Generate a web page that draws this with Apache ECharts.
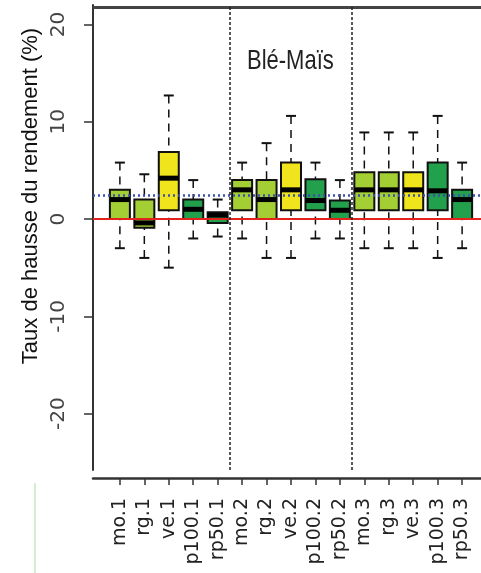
<!DOCTYPE html>
<html><head><meta charset="utf-8">
<script src="https://cdn.jsdelivr.net/npm/echarts@6/dist/echarts.min.js"></script>
<style>html,body{margin:0;padding:0;background:#fff}#c{width:481px;height:573px}</style>
</head><body><div id="c"></div>
<script>
const categories = ['mo.1','rg.1','ve.1','p100.1','rp50.1','mo.2','rg.2','ve.2','p100.2','rp50.2','mo.3','rg.3','ve.3','p100.3','rp50.3'];
const treatment  = ['mo','rg','ve','p100','rp50','mo','rg','ve','p100','rp50','mo','rg','ve','p100','rp50'];
const lowWhisker = [-3, -4, -5, -2, -1.8, -2, -4, -4, -2, -2, -3, -3, -3, -4, -3];
const q1         = [0, -0.9, 0.9, 0, -0.4, 0.9, 0, 0.9, 0.9, 0, 0.9, 0.9, 0.9, 0.9, 0];
const median     = [2, -0.4, 4.2, 1, 0.4, 3, 2, 3, 1.9, 0.9, 3, 3, 3, 2.9, 2];
const q3         = [3, 2, 6.9, 2, 0.7, 4, 4, 5.8, 4.1, 1.9, 4.8, 4.8, 4.8, 5.8, 3];
const highWhisker= [5.8, 4.6, 12.7, 4, 2, 5.8, 7.8, 10.6, 5.8, 4, 8.9, 8.9, 8.9, 10.6, 5.8];
const yTicks = [-20, -10, 0, 10, 20];
const yMin = -25.8, yMax = 22.0;
const frameTop = 21.8;
const groupDividers = [5.5, 10.5];
const meanLine = 2.4;
const groupLabel = 'Blé-Maïs';
const yTitle = 'Taux de hausse du rendement (%)';
const treatmentColors = {mo:'#a4cf34', rg:'#a4cf34', ve:'#f0e41c', p100:'#22a04c', rp50:'#22a04c'};

const xs = categories.map((c, i) => i + 1);
const whiskerData = xs.map((x, i) => [x, lowWhisker[i], median[i], median[i], median[i], highWhisker[i]]);
const boxData = xs.map((x, i) => ({value:[x, q1[i], q1[i], median[i], q3[i], q3[i]], itemStyle:{color: treatmentColors[treatment[i]]}}));
const medianData = xs.map((x, i) => [x, median[i]]);
const capData = xs.map((x, i) => [x, lowWhisker[i]]).concat(xs.map((x, i) => [x, highWhisker[i]]));

const chart = echarts.init(document.getElementById('c'), null, {renderer:'canvas'});
chart.setOption({
  animation:false,
  backgroundColor:'#fff',
  grid:{left:93, right:-8, top:5, bottom:103, containLabel:false, outerBoundsMode:'none'},
  xAxis:[{
    type:'value', min:-0.1, max:16.1, position:'bottom', offset:8,
    axisLine:{show:true, onZero:false, lineStyle:{color:'#333', width:2.5}},
    axisTick:{show:true, customValues:xs, length:7, lineStyle:{color:'#333', width:1.5}},
    axisLabel:{show:true, customValues:xs, formatter:v => categories[Math.round(v)-1], rotate:90, margin:20,
      fontSize:19, fontFamily:'DejaVu Sans', color:'#222'},
    splitLine:{show:false}
  },{
    type:'value', min:-0.1, max:16.1, position:'top',
    axisLine:{show:false, onZero:false}, axisTick:{show:false}, axisLabel:{show:false}, splitLine:{show:false}
  }],
  yAxis:{
    type:'value', min:yMin, max:yMax,
    axisLine:{show:true, onZero:false, lineStyle:{color:'#333', width:2}},
    axisTick:{show:true, customValues:yTicks, length:9, lineStyle:{color:'#333', width:1.5}},
    axisLabel:{show:true, customValues:yTicks, rotate:90, margin:24, fontSize:20, fontFamily:'DejaVu Sans', color:'#444'},
    splitLine:{show:false}
  },
  series:[
    {type:'boxplot', xAxisIndex:1, data:whiskerData, boxWidth:[0,0], silent:true, z:2,
      itemStyle:{color:'transparent', borderColor:'#111', borderWidth:1.5, borderType:[8,6]}},
    {type:'boxplot', xAxisIndex:0, data:boxData, boxWidth:[20,20], silent:true, z:3,
      itemStyle:{borderColor:'#111', borderWidth:2},
      markLine:{silent:true, symbol:'none', label:{show:false}, z:5,
        data:[
          {yAxis:0, lineStyle:{color:'#e3221c', width:2, type:'solid'}},
          {yAxis:meanLine, lineStyle:{color:'#3b4fae', width:2.5, type:[2,3]}},
          {yAxis:frameTop, lineStyle:{color:'#444', width:3, type:'solid'}},
          {xAxis:groupDividers[0], lineStyle:{color:'#222', width:1.5, type:[3,2]}},
          {xAxis:groupDividers[1], lineStyle:{color:'#222', width:1.5, type:[3,2]}}
        ]}},
    {type:'scatter', xAxisIndex:0, data:medianData, symbol:'rect', symbolSize:[20,5], silent:true, z:4,
      itemStyle:{color:'#000', opacity:1}},
    {type:'scatter', xAxisIndex:0, data:capData, symbol:'rect', symbolSize:[10,2], silent:true, z:4,
      itemStyle:{color:'#111', opacity:1}}
  ],
  graphic:[
    {type:'text', x:31, y:196, rotation:Math.PI/2, silent:true,
      style:{text:yTitle, x:0, y:0, textAlign:'center', textVerticalAlign:'middle',
        font:'22px "Liberation Sans", Arial, sans-serif', fill:'#111'}},
    {type:'text', x:247, y:75, scaleY:1.25, silent:true,
      style:{text:groupLabel, x:0, y:0, textAlign:'left', textVerticalAlign:'bottom',
        font:'22px "Liberation Sans", Arial, sans-serif', fill:'#222'}},
    {type:'line', silent:true, shape:{x1:35, y1:483, x2:35, y2:573}, style:{stroke:'#9fe39f', lineWidth:1}}
  ]
});
</script></body></html>
